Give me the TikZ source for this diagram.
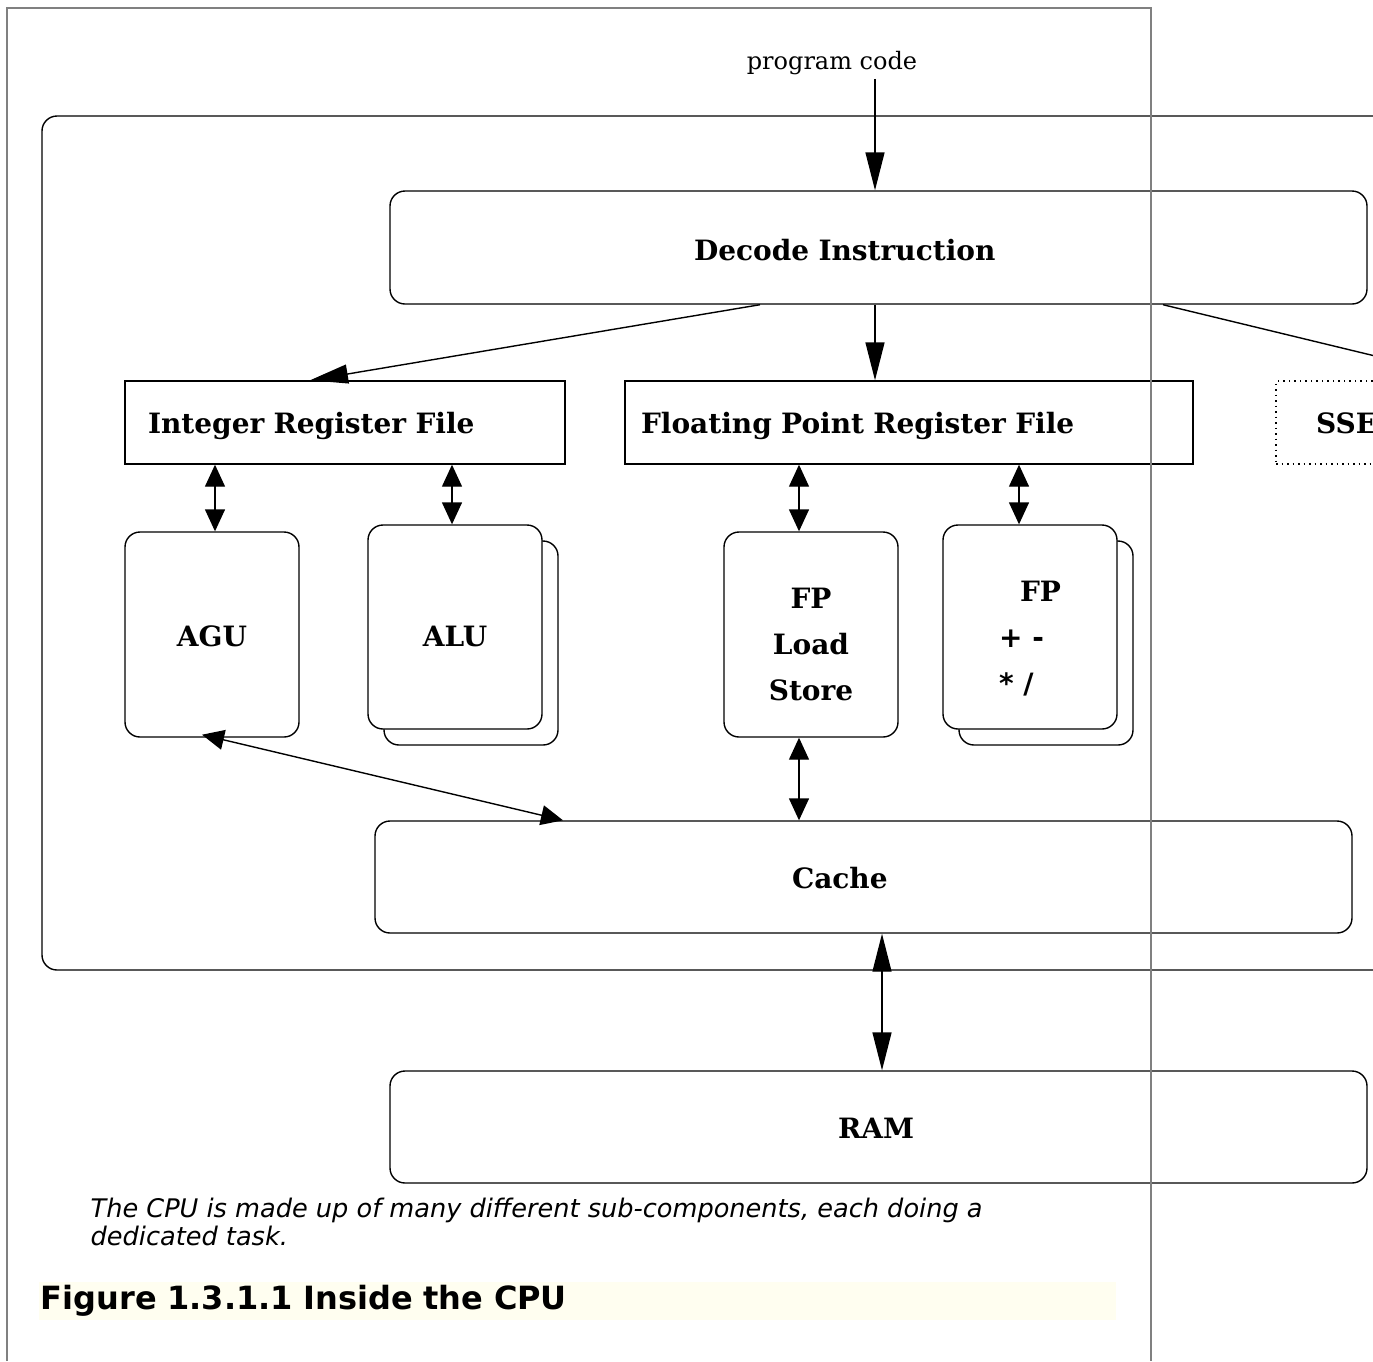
\documentclass[tikz,border=0pt]{standalone}
\usepackage{fontspec}
\setmainfont{DejaVu Serif}
\newfontfamily\dvsans{DejaVu Sans}[ItalicFont={DejaVu Sans Oblique}, BoldFont={DejaVu Sans Bold}]
\usetikzlibrary{arrows.meta, shadows}
\definecolor{cframe}{HTML}{808080}
\definecolor{ctitlebg}{HTML}{FFFEF0}
\newcommand\pushdown[1]{\rule{0pt}{#1}}
\tikzset{
  every picture/.style={line width=1.4pt},
  unit/.style={draw, fill=white, rounded corners=15pt, align=center, minimum width=174pt, inner sep=0pt, font=\fontsize{28}{46}\selectfont\bfseries},
  wide/.style={draw, fill=white, rounded corners=15pt, minimum width=977pt, minimum height=113pt, align=left, font=\fontsize{28}{34}\selectfont\bfseries},
  regfile/.style={draw, rectangle, align=left, minimum height=83pt, text height=24pt, text depth=2pt, font=\fontsize{28}{34}\selectfont\bfseries},
  stacked/.style={copy shadow={shadow xshift=16pt, shadow yshift=-16pt, draw=black, fill=white}},
  bigarrow/.style={-{Triangle[length=38pt, width=19pt]}},
  bigboth/.style={{Triangle[length=38pt, width=19pt]}-{Triangle[length=38pt, width=19pt]}},
  smallboth/.style={{Triangle[length=22pt, width=20pt]}-{Triangle[length=22pt, width=20pt]}},
  frame/.style={draw=cframe, line width=2pt},
  caption/.style={font=\dvsans\itshape\fontsize{25.6}{28}\selectfont, align=left, inner sep=0pt},
  figtitle/.style={font=\dvsans\bfseries\fontsize{32}{36}\selectfont, fill=ctitlebg, align=left, inner xsep=2pt, inner ysep=0pt, minimum height=38pt},
}

\begin{document}
\begin{tikzpicture}[x=1pt, y=-1pt]
  \useasboundingbox (0,0) rectangle (1373,1361);
  \clip (0,0) rectangle (1373,1361);

  % cpu outline, runs off the page on the right
  \node[draw, rounded corners=15pt, minimum width=1678pt, minimum height=854pt] (cpu) at (881,543) {};
  \node[font=\fontsize{24}{28}\selectfont] (code) at (832,63) {program code};

  \node[wide, text width=369pt, inner xsep=304pt] (decode) at (878.5,247.5) {\pushdown{26pt}Decode Instruction};
  \node[regfile, text width=394pt, inner xsep=23pt] (intreg) at (345,422.5) {Integer Register File};
  \node[regfile, text width=536pt, inner xsep=16pt] (fpreg) at (909,422.5) {Floating Point Register File};
  \node[regfile, text width=320pt, inner xsep=40pt, dash pattern=on 1.5pt off 4pt, line width=1.2pt] (sse) at (1476,422.5) {SSE};

  \node[unit, minimum height=205pt] (agu) at (212,634.5) {\pushdown{24pt}AGU};
  \node[unit, stacked, minimum height=204pt] (alu) at (455,627) {\pushdown{39pt}ALU};
  \node[unit, minimum height=205pt] (fpls) at (811,634.5) {\pushdown{41pt}FP\\Load\\Store};
  \node[unit, stacked, align=left, minimum height=204pt] (fpalu) at (1030,627) {\pushdown{43pt}\hspace*{21pt}FP\\{\dvsans + -}\\{\dvsans * /}};

  \node[wide, minimum height=112pt, text width=143pt, inner xsep=417pt] (cache) at (863.5,877) {\pushdown{23pt}Cache};
  \node[wide, minimum height=112pt, text width=81pt, inner xsep=448pt] (ram) at (878.5,1127) {\pushdown{23pt}RAM};

  % connectors
  \draw[bigarrow] ([xshift=-3.5pt]decode.north |- code.south) -- ([xshift=-3.5pt]decode.north);
  \draw[bigarrow] ([xshift=-118.5pt]decode.south) -- ([xshift=-35pt]intreg.north);
  \draw[bigarrow] ([xshift=-3.5pt]decode.south) -- ([xshift=-3.5pt]decode.south |- fpreg.north);
  \draw[bigarrow] ([xshift=284.5pt]decode.south) -- (sse.north);
  \draw[smallboth] ([xshift=3pt]agu.north |- intreg.south) -- ([xshift=3pt]agu.north);
  \draw[smallboth] ([xshift=-3pt]alu.north |- intreg.south) -- ([xshift=-3pt]alu.north);
  \draw[smallboth] ([xshift=-12pt]fpls.north |- fpreg.south) -- ([xshift=-12pt]fpls.north);
  \draw[smallboth] ([xshift=-11pt]fpalu.north |- fpreg.south) -- ([xshift=-11pt]fpalu.north);
  \draw[smallboth] ([xshift=-10pt, yshift=3pt]agu.south) -- ([xshift=-300.5pt]cache.north);
  \draw[smallboth] ([xshift=-12pt]fpls.south) -- ([xshift=-12pt]fpls.south |- cache.north);
  \draw[bigboth] ([xshift=18.5pt]cache.south) -- ([xshift=18.5pt]cache.south |- ram.north);

  \node[caption, anchor=west] (note) at (90,1222) {The CPU is made up of many different sub-components, each doing a\\dedicated task.};
  \node[figtitle, anchor=west, text width=1073pt] (title) at (38,1301) {Figure 1.3.1.1 Inside the CPU};

  % page frame on top
  \draw[frame] (7,1361) -- (7,8) -- (1151,8) -- (1151,1361);
\end{tikzpicture}
\end{document}
